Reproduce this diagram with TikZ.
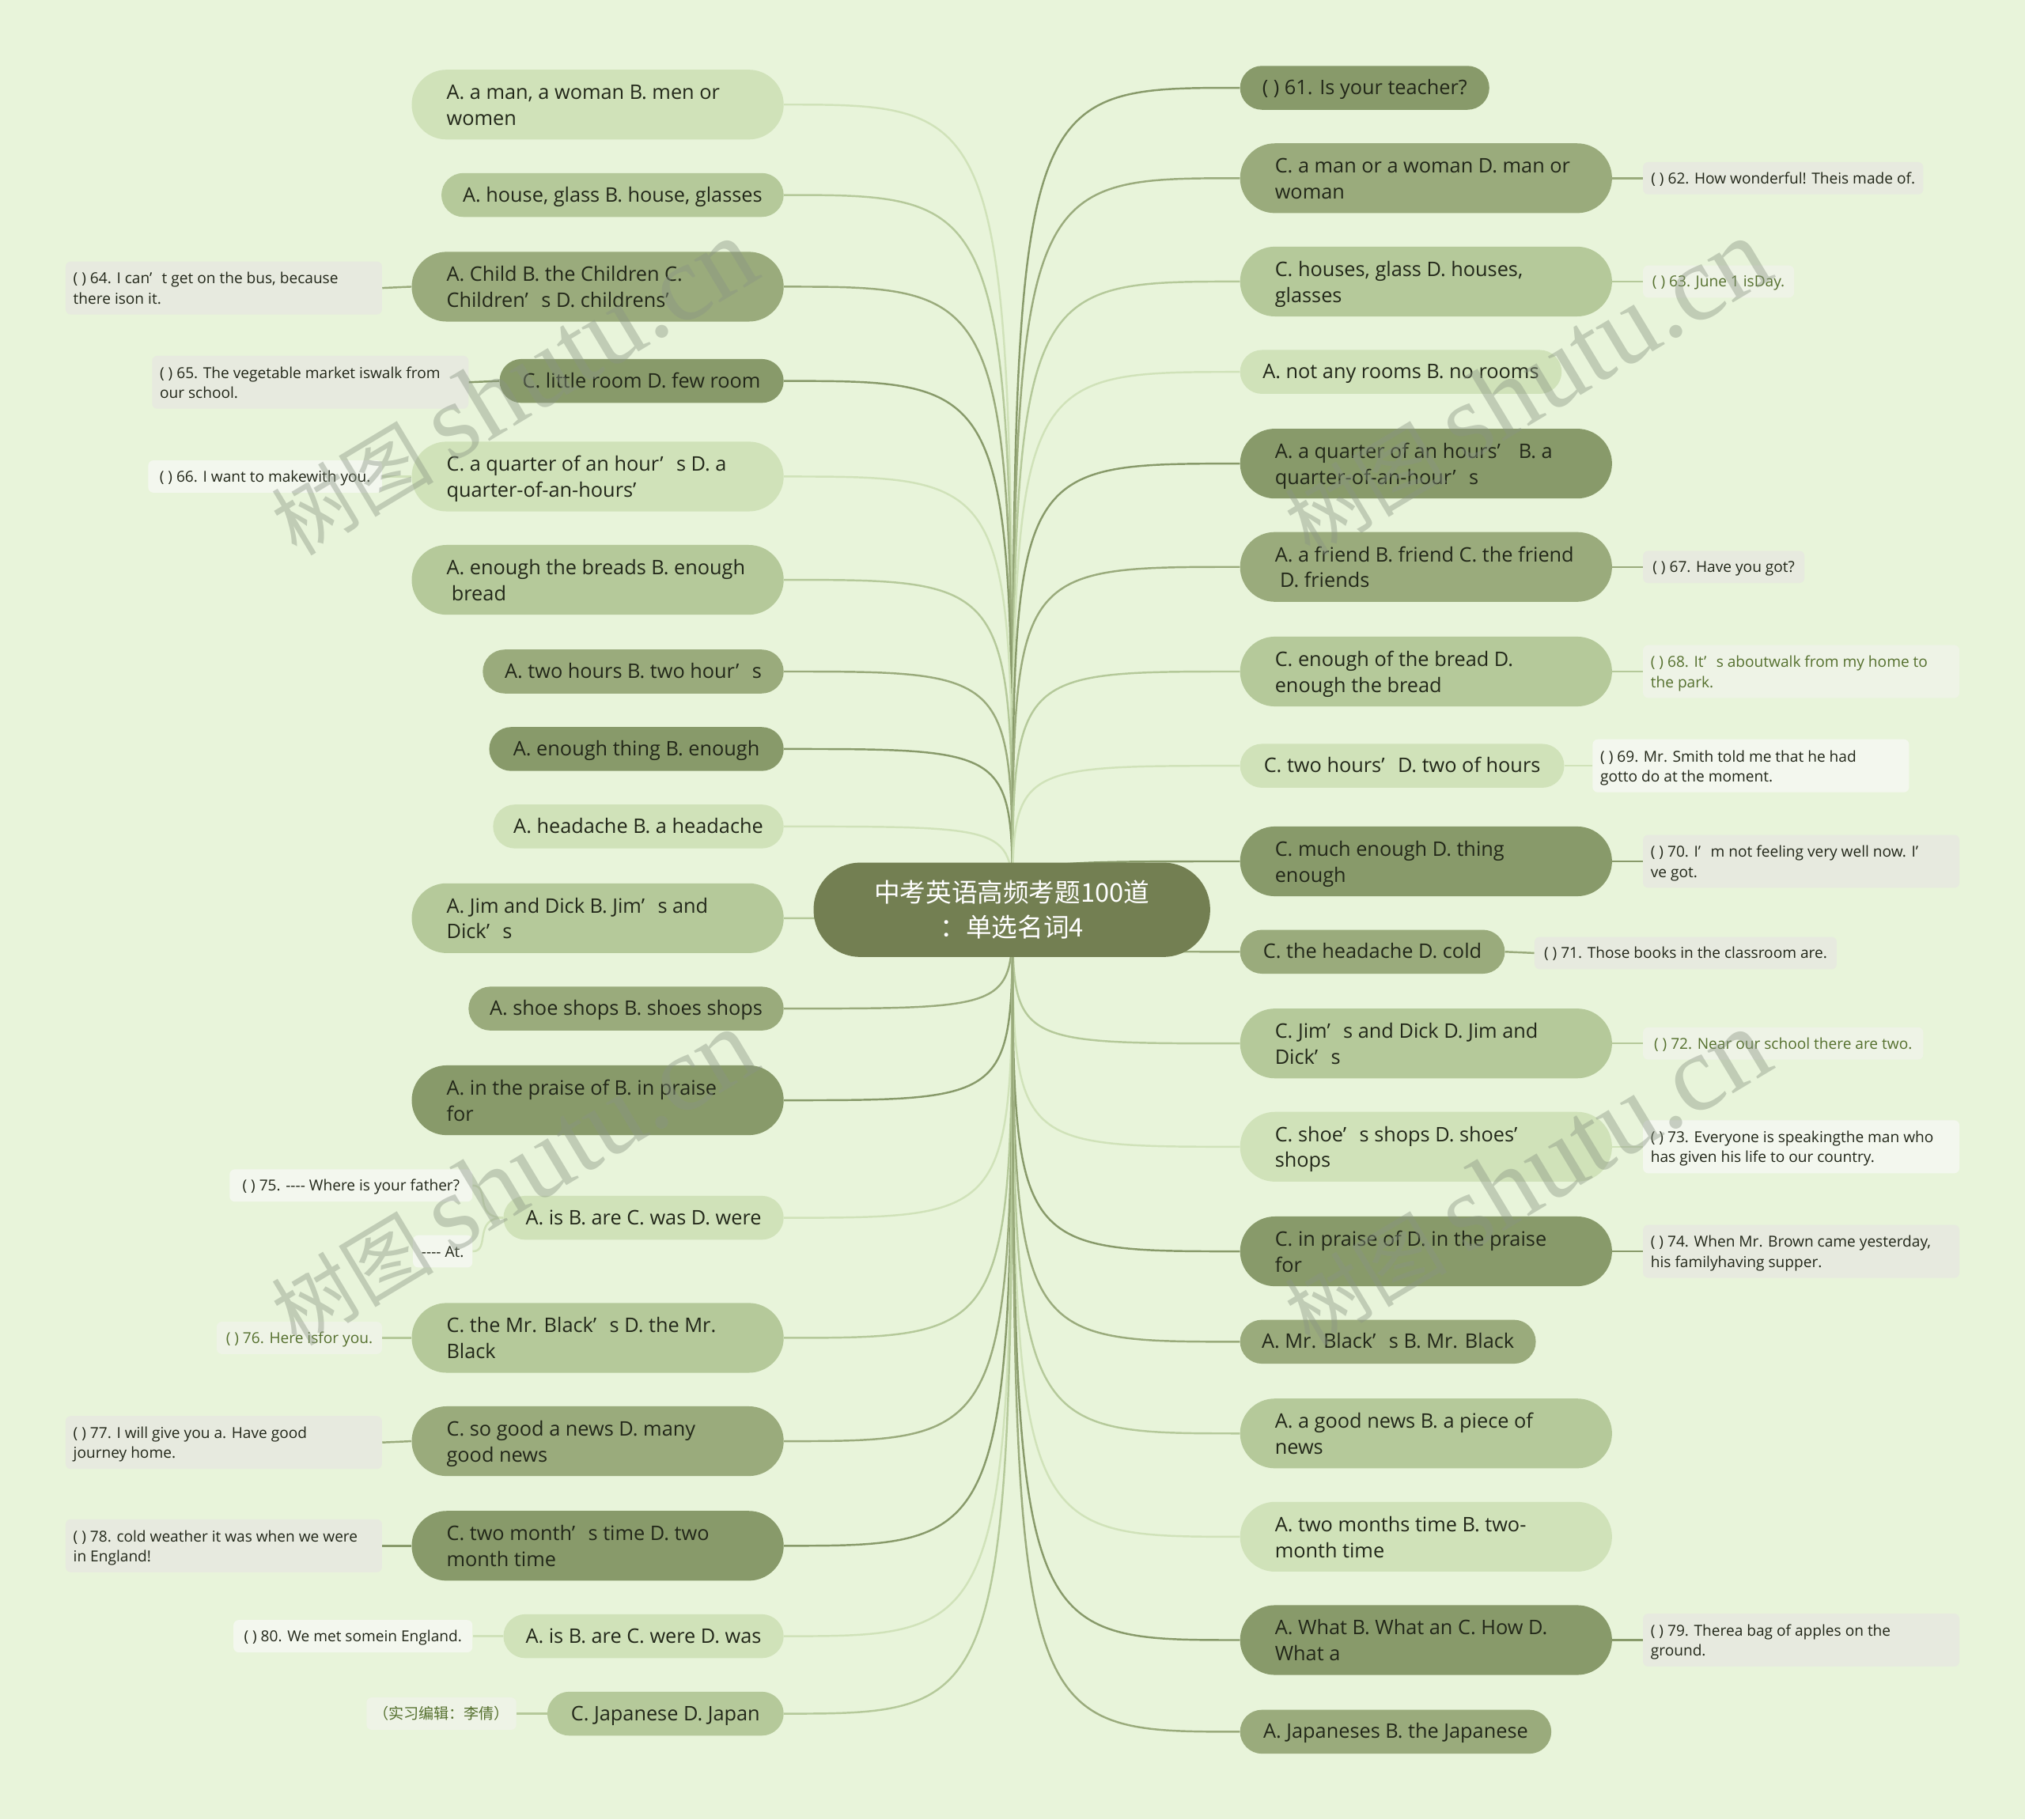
\documentclass[tikz,border=0pt]{standalone}
\usepackage{fontspec}
\setmainfont{Open Sans}
\newfontfamily\cjk{Noto Sans CJK SC}
\newfontfamily\wmserif{Liberation Serif}
\usetikzlibrary{calc,backgrounds}
\definecolor{bg}{HTML}{E8F4DA}
\definecolor{cL}{HTML}{D0E2B9}
\definecolor{cM}{HTML}{B5C99A}
\definecolor{cD}{HTML}{9AAB7C}
\definecolor{cK}{HTML}{889A6A}
\definecolor{cC}{HTML}{737F52}
\definecolor{txt}{HTML}{222719}
\definecolor{olv}{HTML}{55702E}
\definecolor{sG}{HTML}{E7EADF}
\definecolor{sW}{HTML}{F3F7EE}
\definecolor{sO}{HTML}{EEF3E6}
\definecolor{wm}{HTML}{8A9584}
\newcommand\ap{’\hspace{0.65em}}
\newcommand\hy{\mbox{-}}
\newcommand\nt[2]{\raisebox{-2pt}[\height][\depth]{\makebox[234pt][l]{\begin{tabular}{@{}l@{}}#1\\#2\end{tabular}}}}
\newcommand\st[2]{\raisebox{-1.5pt}[\height][\depth]{\makebox[233pt][l]{\begin{tabular}{@{}l@{}}#1\\#2\end{tabular}}}}
\tikzset{
  base/.style={draw=none, inner sep=0pt, text=txt},
  one/.style={base, rounded corners=17pt, minimum height=34pt, font=\fontsize{15.5}{20}\selectfont, text height=14pt, text depth=3.5pt},
  two/.style={base, rounded corners=27pt, minimum height=54pt, inner xsep=27pt, font=\fontsize{15.5}{20}\selectfont},
  sone/.style={base, rounded corners=4pt, minimum height=25pt, font=\fontsize{11.7}{15.5}\selectfont, text height=11pt, text depth=2.5pt},
  stwo/.style={base, rounded corners=4pt, minimum height=41pt, inner xsep=6pt, font=\fontsize{11.7}{15.5}\selectfont},
  conn/.style={line width=1.5pt},
  sconn/.style={line width=1.5pt},
  wmark/.style={rotate=31, text=wm, opacity=0.42, inner sep=0pt}
}
\begin{document}
\begin{tikzpicture}[x=1pt,y=-1pt]
\useasboundingbox (0,0) rectangle (1568,1409);
\coordinate (O) at (784,704);
% center
\node[fill=cC, rounded corners=36pt, minimum width=307pt, minimum height=73pt, inner sep=0pt, text=white, font=\cjk\fontsize{20}{27}\selectfont, align=center] (C) at (783.5,704.5) {中考英语高频考题100道\\：单选名词4};
% left nodes
\node[two, fill=cL, anchor=east] (L1) at (607,81) {\nt{A. a man, a woman B. men or}{women}};
\node[one, fill=cM, minimum width=265pt, anchor=east] (L2) at (607,151) {A. house, glass B. house, glasses};
\node[two, fill=cD, anchor=east] (L3) at (607,222) {\nt{A. Child B. the Children C.}{Children\ap s D. childrens’}};
\node[one, fill=cK, minimum width=220pt, anchor=east] (L4) at (607,295) {C. little room D. few room};
\node[two, fill=cL, anchor=east] (L5) at (607,369) {\nt{C. a quarter of an hour\ap s D. a}{quarter-of-an-hours’}};
\node[two, fill=cM, anchor=east] (L6) at (607,449) {\nt{A. enough the breads B. enough}{\hspace{0.25em}bread}};
\node[one, fill=cD, minimum width=233pt, anchor=east] (L7) at (607,520) {A. two hours B. two hour\ap s};
\node[one, fill=cK, minimum width=228pt, anchor=east] (L8) at (607,580) {A. enough thing B. enough};
\node[one, fill=cL, minimum width=225pt, anchor=east] (L9) at (607,640) {A. headache B. a headache};
\node[two, fill=cM, anchor=east] (L10) at (607,711) {\nt{A. Jim and Dick B. Jim\ap s and}{Dick\ap s}};
\node[one, fill=cD, minimum width=244pt, anchor=east] (L11) at (607,781) {A. shoe shops B. shoes shops};
\node[two, fill=cK, anchor=east] (L12) at (607,852) {\nt{A. in the praise of B. in praise}{for}};
\node[one, fill=cL, minimum width=217pt, anchor=east] (L13) at (607,943) {A. is B. are C. was D. were};
\node[two, fill=cM, anchor=east] (L14) at (607,1036) {\nt{C. the Mr. Black\ap s D. the Mr.}{Black}};
\node[two, fill=cD, anchor=east] (L15) at (607,1116) {\nt{C. so good a news D. many}{good news}};
\node[two, fill=cK, anchor=east] (L16) at (607,1197) {\nt{C. two month\ap s time D. two}{month time}};
\node[one, fill=cL, minimum width=217pt, anchor=east] (L17) at (607,1267) {A. is B. are C. were D. was};
\node[one, fill=cM, minimum width=183pt, anchor=east] (L18) at (607,1327) {C. Japanese D. Japan};
% right nodes
\node[one, fill=cK, minimum width=193pt, anchor=west] (R1) at (960,68) {( ) 61. Is your teacher?};
\node[two, fill=cD, anchor=west] (R2) at (960,138) {\nt{C. a man or a woman D. man or}{woman}};
\node[two, fill=cM, anchor=west] (R3) at (960,218) {\nt{C. houses, glass D. houses,}{glasses}};
\node[one, fill=cL, minimum width=249pt, anchor=west] (R4) at (960,288) {A. not any rooms B. no rooms};
\node[two, fill=cK, anchor=west] (R5) at (960,359) {\nt{A. a quarter of an hours\ap{} B. a}{quarter-of-an-hour\ap s}};
\node[two, fill=cD, anchor=west] (R6) at (960,439) {\nt{A. a friend B. friend C. the friend}{\hspace{0.25em}D. friends}};
\node[two, fill=cM, anchor=west] (R7) at (960,520) {\nt{C. enough of the bread D.}{enough the bread}};
\node[one, fill=cL, minimum width=251pt, anchor=west] (R8) at (960,593) {C. two hours\ap D. two of hours};
\node[two, fill=cK, anchor=west] (R9) at (960,667) {\nt{C. much enough D. thing}{enough}};
\node[one, fill=cD, minimum width=205pt, anchor=west] (R10) at (960,737) {C. the headache D. cold};
\node[two, fill=cM, anchor=west] (R11) at (960,808) {\nt{C. Jim\ap s and Dick D. Jim and}{Dick\ap s}};
\node[two, fill=cL, anchor=west] (R12) at (960,888) {\nt{C. shoe\ap s shops D. shoes’}{shops}};
\node[two, fill=cK, anchor=west] (R13) at (960,969) {\nt{C. in praise of D. in the praise}{for}};
\node[one, fill=cD, minimum width=229pt, anchor=west] (R14) at (960,1039) {A. Mr. Black\ap s B. Mr. Black};
\node[two, fill=cM, anchor=west] (R15) at (960,1110) {\nt{A. a good news B. a piece of}{news}};
\node[two, fill=cL, anchor=west] (R16) at (960,1190) {\nt{A. two months time B. two-}{month time}};
\node[two, fill=cK, anchor=west] (R17) at (960,1270) {\nt{A. What B. What an C. How D.}{What a}};
\node[one, fill=cD, minimum width=241pt, anchor=west] (R18) at (960,1341) {A. Japaneses B. the Japanese};
% sub labels right
\node[sone, fill=sG, minimum width=217pt, anchor=west] (s62) at (1272,138) {( ) 62. How wonderful! Theis made of.};
\node[sone, fill=sO, text=olv, minimum width=117pt, anchor=west] (s63) at (1272,218) {( ) 63. June 1 isDay.};
\node[sone, fill=sG, minimum width=125pt, anchor=west] (s67) at (1272,439) {( ) 67. Have you got?};
\node[stwo, fill=sO, text=olv, anchor=west] (s68) at (1272,520) {\st{( ) 68. It\ap s aboutwalk from my home to}{the park.}};
\node[stwo, fill=sW, anchor=west] (s69) at (1233,593) {\st{( ) 69. Mr. Smith told me that he had}{gotto do at the moment.}};
\node[stwo, fill=sG, anchor=west] (s70) at (1272,667) {\st{( ) 70. I\ap m not feeling very well now. I’}{ve got.}};
\node[sone, fill=sG, minimum width=234pt, anchor=west] (s71) at (1188,738) {( ) 71. Those books in the classroom are.};
\node[sone, fill=sO, text=olv, minimum width=217pt, anchor=west] (s72) at (1272,808) {( ) 72. Near our school there are two.};
\node[stwo, fill=sW, anchor=west] (s73) at (1272,888) {\st{( ) 73. Everyone is speakingthe man who}{has given his life to our country.}};
\node[stwo, fill=sG, anchor=west] (s74) at (1272,969) {\st{( ) 74. When Mr. Brown came yesterday,}{his familyhaving supper.}};
\node[stwo, fill=sG, anchor=west] (s79) at (1272,1270) {\st{( ) 79. Therea bag of apples on the}{ground.}};
% sub labels left
\node[stwo, fill=sG, anchor=east] (s64) at (296,223) {\st{( ) 64. I can\ap t get on the bus, because}{there ison it.}};
\node[stwo, fill=sG, anchor=east] (s65) at (363,296) {\st{( ) 65. The vegetable market iswalk from}{our school.}};
\node[sone, fill=sW, minimum width=181pt, anchor=east] (s66) at (296,369) {( ) 66. I want to makewith you.};
\node[sone, fill=sW, minimum width=188pt, anchor=east] (s75a) at (366,918) {( ) 75. \hy\hy\hy\hy{} Where is your father?};
\node[sone, fill=sW, minimum width=46pt, anchor=east] (s75b) at (366,969) {\hy\hy\hy\hy{} At.};
\node[sone, fill=sO, text=olv, minimum width=128pt, anchor=east] (s76) at (296,1036) {( ) 76. Here isfor you.};
\node[stwo, fill=sG, anchor=east] (s77) at (296,1117) {\st{( ) 77. I will give you a. Have good}{journey home.}};
\node[stwo, fill=sG, anchor=east] (s78) at (296,1197) {\st{( ) 78. cold weather it was when we were}{in England!}};
\node[sone, fill=sW, minimum width=185pt, anchor=east] (s80) at (366,1267) {( ) 80. We met somein England.};
\node[sone, fill=sO, text=olv, minimum width=116pt, anchor=east] (sed) at (400,1327) {\cjk （实习编辑：李倩）};
% connectors
\begin{scope}[on background layer]
\fill[bg] (0,0) rectangle (1568,1409);
\foreach \n/\c in {L1/cL,L2/cM,L3/cD,L4/cK,L5/cL,L6/cM,L7/cD,L8/cK,L9/cL,L10/cM,L11/cD,L12/cK,L13/cL,L14/cM,L15/cD,L16/cK,L17/cL,L18/cM}
  \draw[conn, draw=\c] (O) .. controls (O |- \n.east) .. (\n.east);
\foreach \n/\c in {R1/cK,R2/cD,R3/cM,R4/cL,R5/cK,R6/cD,R7/cM,R8/cL,R9/cK,R10/cD,R11/cM,R12/cL,R13/cK,R14/cD,R15/cM,R16/cL,R17/cK,R18/cD}
  \draw[conn, draw=\c] (O) .. controls (O |- \n.west) .. (\n.west);
\foreach \p/\s/\c in {R2/s62/cD,R3/s63/cM,R6/s67/cD,R7/s68/cM,R8/s69/cL,R9/s70/cK,R10/s71/cD,R11/s72/cM,R12/s73/cL,R13/s74/cK,R17/s79/cK}
  \draw[sconn, draw=\c] (\p.east) -- (\s.west);
\foreach \p/\s/\c in {L3/s64/cD,L4/s65/cK,L5/s66/cL,L14/s76/cM,L15/s77/cD,L16/s78/cK,L17/s80/cL,L18/sed/cM}
  \draw[sconn, draw=\c] (\p.west) -- (\s.east);
\draw[sconn, draw=cL] (L13.west) .. controls (L13.west -| s75a.east) and ($(s75a.east)+(14,0)$) .. (s75a.east);
\draw[sconn, draw=cL] (L13.west) .. controls (L13.west -| s75b.east) and ($(s75b.east)+(14,0)$) .. (s75b.east);
\end{scope}
% watermark
\foreach \x/\y in {397,1182}
  \foreach \y in {300,912}
    \node[wmark] at (\x,\y) {{\cjk\fontsize{63}{63}\selectfont 树图}{\wmserif\fontsize{84}{84}\selectfont\,shutu.cn}};
\end{tikzpicture}
\end{document}
